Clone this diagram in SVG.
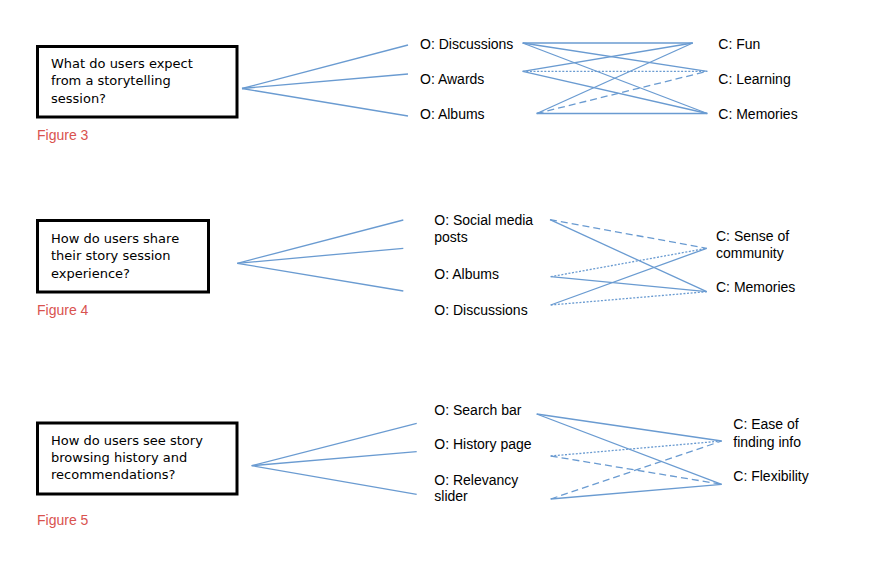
<svg xmlns="http://www.w3.org/2000/svg" width="870" height="566" viewBox="0 0 870 566">
<style>
.box{fill:#fff;stroke:#000;stroke-width:3}
.q{font-family:"DejaVu Sans",sans-serif;font-size:13px;fill:#000}
.lbl{font-family:"Liberation Sans",Arial,sans-serif;font-size:14px;fill:#000}
.fig{font-family:"Liberation Sans",Arial,sans-serif;font-size:14px;fill:#d9534f}
.ln{stroke:#6a9bd1;stroke-width:1.3;fill:none}
.dot{stroke-dasharray:2 1.6}
.dash{stroke-dasharray:7 4}
</style>
<rect width="870" height="566" fill="#fff"/>
<g id="connectors">
  <!-- Figure 3 -->
  <line class="ln" x1="242" y1="88.5" x2="408" y2="45"/>
  <line class="ln" x1="242" y1="88.5" x2="408" y2="74"/>
  <line class="ln" x1="242" y1="88.5" x2="408" y2="116"/>
  <line class="ln" x1="522.7" y1="43" x2="692.7" y2="43"/>
  <line class="ln" x1="522.7" y1="43" x2="707.3" y2="71.3"/>
  <line class="ln" x1="522.7" y1="43" x2="707.3" y2="113.5"/>
  <line class="ln" x1="522.7" y1="71.3" x2="692.7" y2="43"/>
  <line class="ln dot" x1="522.7" y1="71.3" x2="707.3" y2="71.3"/>
  <line class="ln" x1="522.7" y1="71.3" x2="707.3" y2="113.5"/>
  <line class="ln" x1="536.7" y1="113.5" x2="692.7" y2="43"/>
  <line class="ln dash" x1="536.7" y1="113.5" x2="707.3" y2="71.3"/>
  <line class="ln" x1="536.7" y1="113.5" x2="707.3" y2="113.5"/>
  <!-- Figure 4 -->
  <line class="ln" x1="237.3" y1="263.3" x2="403.3" y2="220"/>
  <line class="ln" x1="237.3" y1="263.3" x2="403.3" y2="248.3"/>
  <line class="ln" x1="237.3" y1="263.3" x2="403.3" y2="291"/>
  <line class="ln dash" x1="550" y1="219.7" x2="706.7" y2="248.3"/>
  <line class="ln" x1="550" y1="219.7" x2="706.7" y2="291.7"/>
  <line class="ln dot" x1="550.7" y1="276.7" x2="706.7" y2="248.3"/>
  <line class="ln" x1="550.7" y1="276.7" x2="706.7" y2="291.7"/>
  <line class="ln" x1="550.7" y1="305" x2="706.7" y2="248.3"/>
  <line class="ln dot" x1="550.7" y1="305" x2="706.7" y2="291.7"/>
  <!-- Figure 5 -->
  <line class="ln" x1="251.7" y1="465.7" x2="416.7" y2="423.3"/>
  <line class="ln" x1="251.7" y1="465.7" x2="416.7" y2="451.7"/>
  <line class="ln" x1="251.7" y1="465.7" x2="416.7" y2="494.3"/>
  <line class="ln" x1="536.7" y1="414" x2="721.7" y2="441"/>
  <line class="ln" x1="536.7" y1="414" x2="721.7" y2="484.3"/>
  <line class="ln dot" x1="550.7" y1="456" x2="721.7" y2="441"/>
  <line class="ln dash" x1="550.7" y1="456" x2="721.7" y2="484.3"/>
  <line class="ln dash" x1="550.7" y1="499" x2="721.7" y2="441"/>
  <line class="ln" x1="550.7" y1="499" x2="721.7" y2="484.3"/>
</g>
<g id="q3">
  <rect class="box" x="37.5" y="46.5" width="199.5" height="70.5"/>
  <text class="q" x="51" y="67.5">What do users expect</text>
  <text class="q" x="51" y="85">from a storytelling</text>
  <text class="q" x="51" y="102.5">session?</text>
</g>
<g id="fig3"><text class="fig" x="37" y="139.5">Figure 3</text></g>
<g id="o3-discussions"><text class="lbl" x="420" y="49">O: Discussions</text></g>
<g id="o3-awards"><text class="lbl" x="420" y="84">O: Awards</text></g>
<g id="o3-albums"><text class="lbl" x="420" y="119">O: Albums</text></g>
<g id="c3-fun"><text class="lbl" x="718.3" y="49">C: Fun</text></g>
<g id="c3-learning"><text class="lbl" x="718.3" y="84">C: Learning</text></g>
<g id="c3-memories"><text class="lbl" x="718.3" y="119">C: Memories</text></g>

<g id="q4">
  <rect class="box" x="37.5" y="220.5" width="171" height="71.5"/>
  <text class="q" x="51" y="242.7">How do users share</text>
  <text class="q" x="51" y="260">their story session</text>
  <text class="q" x="51" y="277.7">experience?</text>
</g>
<g id="fig4"><text class="fig" x="37" y="315">Figure 4</text></g>
<g id="o4-social"><text class="lbl" x="434.3" y="225">O: Social media</text><text class="lbl" x="434.3" y="242.3">posts</text></g>
<g id="o4-albums"><text class="lbl" x="434.3" y="279">O: Albums</text></g>
<g id="o4-discussions"><text class="lbl" x="434.3" y="315">O: Discussions</text></g>
<g id="c4-community"><text class="lbl" x="716" y="241">C: Sense of</text><text class="lbl" x="716" y="258.3">community</text></g>
<g id="c4-memories"><text class="lbl" x="716" y="292.3">C: Memories</text></g>

<g id="q5">
  <rect class="box" x="37.5" y="423" width="199.5" height="71"/>
  <text class="q" x="51" y="445">How do users see story</text>
  <text class="q" x="51" y="462.3">browsing history and</text>
  <text class="q" x="51" y="479">recommendations?</text>
</g>
<g id="fig5"><text class="fig" x="37" y="525">Figure 5</text></g>
<g id="o5-search"><text class="lbl" x="434.3" y="415">O: Search bar</text></g>
<g id="o5-history"><text class="lbl" x="434.3" y="449.3">O: History page</text></g>
<g id="o5-relevancy"><text class="lbl" x="434.3" y="485">O: Relevancy</text><text class="lbl" x="434.3" y="501">slider</text></g>
<g id="c5-ease"><text class="lbl" x="733.3" y="429.3">C: Ease of</text><text class="lbl" x="733.3" y="446.7">finding info</text></g>
<g id="c5-flex"><text class="lbl" x="733.3" y="481">C: Flexibility</text></g>
</svg>
